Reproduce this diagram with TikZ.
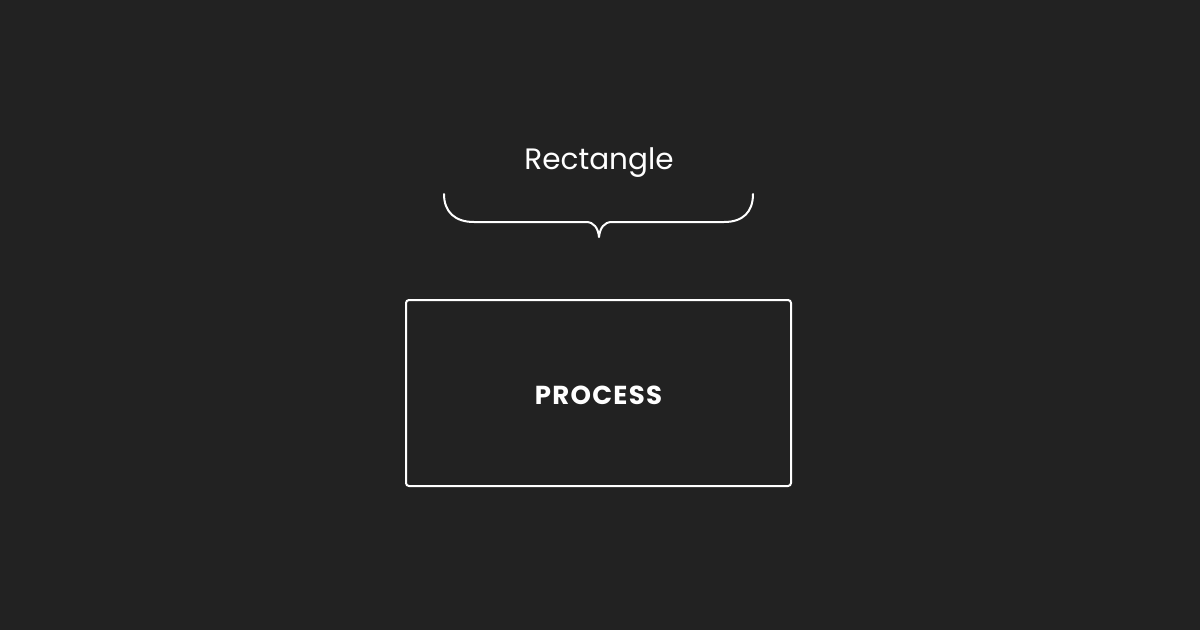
\documentclass[tikz,border=0pt]{standalone}
\usepackage{fontspec}
\setmainfont{Poppins}
\newfontfamily\procfont[LetterSpace=5]{Poppins Bold}
\definecolor{bg}{HTML}{222222}
\definecolor{fg}{HTML}{FFFFFF}
\begin{document}
\begin{tikzpicture}[x=1pt,y=-1pt,
  label text/.style={text=fg,font=\fontsize{29.5}{36}\selectfont},
  box/.style={draw=fg,line width=2pt,rounded corners=3pt,minimum width=385pt,minimum height=186pt,inner sep=0pt},
  boxtext/.style={text=fg,font=\procfont\fontsize{26}{30}\selectfont},
  brace line/.style={draw=fg,line width=2pt,line cap=round,line join=round}]
\fill[bg] (0,0) rectangle (1200,630);
\useasboundingbox (0,0) rectangle (1200,630);
\node[box] (proc) at (598.5,393) {};
\node[boxtext,anchor=base] (proclabel) at (598.5,404) {PROCESS};
\node[label text,anchor=base] (title) at (599,169.5) {Rectangle};
\draw[brace line] (444,194) .. controls (444,212) and (455,222) .. (474,222) -- (586,222)
  .. controls (594,222) and (598,228) .. (599,237)
  .. controls (600,228) and (604,222) .. (612,222) -- (724,222)
  .. controls (743,222) and (753,212) .. (753,194);
\end{tikzpicture}
\end{document}
